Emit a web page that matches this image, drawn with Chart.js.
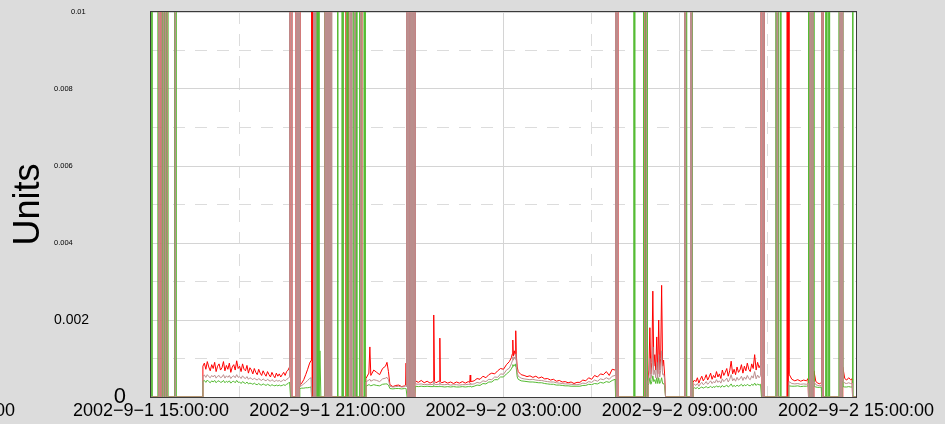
<!DOCTYPE html>
<html>
<head>
<meta charset="utf-8">
<script src="https://cdn.jsdelivr.net/npm/chart.js@4.4.1/dist/chart.umd.min.js"></script>
<style>
  html, body { margin: 0; padding: 0; background: #dcdcdc; }
  #wrap { width: 945px; height: 424px; }
</style>
</head>
<body>
<div id="wrap"><canvas id="c" width="945" height="424"></canvas></div>
<script>
// ---- DATA (time in minutes after 2002-9-1 15:00:00; value 1 = far off the top of the scale) ----
const xTickLabels = ['2002\u22129\u22121 15:00:00', '2002\u22129\u22121 21:00:00', '2002\u22129\u22122 03:00:00', '2002\u22129\u22122 09:00:00', '2002\u22129\u22122 15:00:00'];
const yTickLabels = ['0', '0.002', '0.004', '0.006', '0.008', '0.01'];
const seriesNames = ['pink', 'green', 'red'];

const minutes = [
  0,2,14,16,17,18,21,22,23,24,25,26,27,28,29,30,31,32,33,34,35,48,49,50,51,105,
  106,109,112,115,118,121,124,127,130,133,136,139,142,145,148,151,154,157,160,163,166,169,172,175,178,181,184,187,190,193,
  196,199,202,205,208,211,214,217,220,223,226,229,232,235,238,241,244,247,250,253,256,259,262,265,268,271,274,277,280,283,
  285,286,287,288,296,297,298,299,300,301,302,303,
  304,308,312,316,320,324,327,
  328,329,330,331,332,333,334,335,336,337,338,339,340,341,342,343,345,347,355,356,357,358,359,360,361,362,363,364,365,366,367,368,369,380,381,382,389,390,391,392,393,398,399,400,401,402,406,407,408,409,410,413,414,415,416,417,418,419,420,421,425,426,427,428,429,430,431,434,435,436,437,438,
  439,445,447,449,455,461,467,473,479,482,485,488,494,500,506,512,518,520,521,522,
  523,524,525,526,527,528,529,530,531,532,533,534,535,536,537,538,539,
  540,546,552,558,564,570,576,577,578,579,582,588,589,590,591,594,600,606,612,618,624,630,636,642,648,651,652,653,654,
  660,666,672,678,684,690,696,702,708,714,720,726,732,
  736,738,739,740,742,744,745,746,748,
  750,756,762,768,774,780,786,792,798,804,810,816,822,828,834,840,846,852,858,864,870,
  876,882,888,894,900,906,912,918,924,930,936,942,948,
  949,950,951,952,953,954,986,987,988,1006,1007,1008,1009,1010,1011,1012,1013,1014,
  1015,1017,1019,1021,1023,1025,1027,1029,1031,1033,1035,1037,1039,1041,1043,1045,1047,1049,
  1051,1090,1091,1092,1093,1094,1102,1103,1104,1105,1106,
  1107,1110,1113,1116,1119,1122,1125,1128,1131,1134,1137,1140,1143,1146,1149,1152,1155,1158,1161,1164,1167,1170,1173,1176,
  1179,1182,1185,1188,1191,1194,1197,1200,1203,1206,1209,1212,1215,1218,1221,1224,1227,1230,1233,1236,1239,1242,1245,
  1247,1248,1249,1250,1251,1252,1276,1277,1278,1279,1280,1281,1282,1285,1286,1287,1299,1300,1301,1302,
  1303,1309,1315,1321,1327,1333,1339,1342,
  1343,1344,1345,1346,1347,1348,1349,1350,1351,1352,1353,
  1354,1358,1362,1366,1369,
  1370,1371,1372,1373,1377,1378,1379,1380,1381,1384,1385,1386,1405,1406,1407,1408,1409,1410,1411,1412,
  1413,1417,1421,1425,1429,1432,
  1433,1434,1440
];

const red = [
  0,0,0,0,1,0,0,1,1,1,0,1,1,1,0,1,1,1,0,0,0,0,1,0,0,0,
  0.00080,0.00088,0.00072,0.00092,0.00078,0.00068,0.00084,0.00074,0.00090,0.00066,0.00080,0.00086,0.00070,0.00076,0.00092,0.00068,0.00082,0.00072,0.00088,0.00064,0.00078,0.00084,0.00070,0.00094,0.00074,0.00080,0.00066,0.00086,0.00072,0.00068,
  0.00082,0.00062,0.00076,0.00070,0.00060,0.00074,0.00064,0.00058,0.00072,0.00062,0.00056,0.00068,0.00060,0.00054,0.00066,0.00058,0.00052,0.00064,0.00056,0.00050,0.00062,0.00054,0.00060,0.00052,0.00058,0.00064,0.00056,0.00066,0.00070,0.00078,
  1,0,1,0,0,1,0,1,0,1,0,1,
  0.00030,0.00036,0.00045,0.00058,0.00072,0.00088,0.00095,
  1,0,1,0,1,0,1,0,0,0, 0,0,0,0,0,0, 0,0, 0,1,0,0,0,1,0,0,0,1,0,0,0,0,0, 0,0,0, 0,0,0,0,0, 0,1,1,1,0, 0,0,0,0,0, 0,0,0,0,0,0,0,0,0, 0,0,0,1,1,1,0, 0,0,0,0,0,
  0.00048,0.00062,0.00130,0.00056,0.00070,0.00064,0.00058,0.00074,0.00080,0.00090,0.00066,0.00032,0.00027,0.00030,0.00031,0.00027,0.00029,0.00031,0.00088,0.00029,
  1,0,1,0,1,0,1,0,1,0,1,0,1,0,1,0,1,
  0.00042,0.00038,0.00043,0.00037,0.00041,0.00036,0.00040,0.00041,0.00213,0.00041,0.00037,0.00041,0.00041,0.00153,0.00040,0.00037,0.00040,0.00036,0.00039,0.00035,0.00039,0.00036,0.00040,0.00036,0.00040,0.00038,0.00057,0.00040,0.00040,
  0.00042,0.00048,0.00046,0.00054,0.00050,0.00058,0.00062,0.00060,0.00068,0.00074,0.00072,0.00084,0.00092,
  0.00102,0.00112,0.00148,0.00106,0.00120,0.00108,0.00172,0.00112,0.00078,
  0.00066,0.00058,0.00056,0.00053,0.00055,0.00051,0.00054,0.00049,0.00052,0.00047,0.00048,0.00044,0.00046,0.00041,0.00043,0.00039,0.00040,0.00037,0.00039,0.00035,0.00038,
  0.00038,0.00044,0.00042,0.00050,0.00046,0.00056,0.00052,0.00060,0.00058,0.00066,0.00056,0.00072,0.00070,
  1,0,1,0,1,0, 0,0,0, 0,0,0,1,1,1,0,0,0,
  0.00045,0.00070,0.00180,0.00060,0.00090,0.00275,0.00080,0.00110,0.00070,0.00156,0.00060,0.00200,0.00070,0.00100,0.00290,0.00080,0.00096,0.00060,
  0, 0,1,0,0,0, 0,1,0,0,0,
  0.00038,0.00044,0.00040,0.00050,0.00036,0.00046,0.00054,0.00042,0.00048,0.00058,0.00044,0.00052,0.00062,0.00046,0.00056,0.00050,0.00066,0.00052,0.00060,0.00048,0.00070,0.00056,0.00064,0.00074,
  0.00054,0.00068,0.00093,0.00060,0.00072,0.00058,0.00078,0.00064,0.00070,0.00084,0.00062,0.00080,0.00068,0.00088,0.00072,0.00066,0.00086,0.00074,0.00110,0.00070,0.00090,0.00076,0.00084,
  1,0,1,0,1,0,0,0,0,0,0,0,0,0,0,0,0,1,0,1,
  0.00060,0.00046,0.00042,0.00045,0.00041,0.00044,0.00042,0.00048,
  0,0,1,1,1,0,1,1,1,0,0,
  0.00068,0.00040,0.00036,0.00034,0.00038,
  1,0,1,0,0,0,0,0,0,0,0,0,0,0,0,0,0,0,0,0,
  0.00078,0.00048,0.00044,0.00050,0.00045,0.00047,
  0,0,0
];

const pink = [
  0,0,0,0,1,0,0,1,1,1,0,1,1,1,0,1,1,1,0,0,0,0,1,0,0,0,
  0.00054,0.00057,0.00051,0.00058,0.00053,0.00050,0.00056,0.00052,0.00057,0.00049,0.00054,0.00056,0.00050,0.00052,0.00058,0.00049,0.00055,0.00051,0.00056,0.00048,0.00053,0.00055,0.00050,0.00058,0.00051,0.00053,0.00048,0.00055,0.00050,0.00048,
  0.00053,0.00046,0.00050,0.00048,0.00045,0.00049,0.00046,0.00044,0.00048,0.00045,0.00043,0.00047,0.00044,0.00042,0.00046,0.00043,0.00041,0.00045,0.00042,0.00040,0.00044,0.00041,0.00043,0.00040,0.00042,0.00045,0.00042,0.00046,0.00048,0.00052,
  1,0,1,0,0,1,0,1,0,1,0,1,
  0.00027,0.00030,0.00034,0.00038,0.00043,0.00048,0.00050,
  0,0,0,0,1,0,1,0,1,0, 0,0,0,0,0,0, 0,0, 0,1,0,1,0,1,0,1,0,1,0,1,0,1,0, 0,0,0, 0,0,0,0,0, 0,0,0,0,0, 0,1,0,1,0, 0,0,0,1,0,0,0,0,0, 0,0,0,1,1,1,0, 0,0,0,0,0,
  0.00039,0.00044,0.00046,0.00041,0.00045,0.00043,0.00040,0.00047,0.00049,0.00051,0.00045,0.00028,0.00026,0.00027,0.00028,0.00026,0.00027,0.00028,0.00030,0.00027,
  1,0,1,0,1,0,1,0,1,0,1,0,1,0,1,0,1,
  0.00034,0.00033,0.00034,0.00032,0.00033,0.00032,0.00033,0.00033,0.00042,0.00033,0.00032,0.00033,0.00033,0.00038,0.00033,0.00032,0.00032,0.00033,0.00031,0.00032,0.00032,0.00031,0.00032,0.00032,0.00033,0.00032,0.00036,0.00033,0.00033,
  0.00034,0.00038,0.00036,0.00042,0.00040,0.00046,0.00045,0.00052,0.00051,0.00060,0.00059,0.00070,0.00075,
  0.00086,0.00094,0.00104,0.00096,0.00104,0.00098,0.00112,0.00096,0.00064,
  0.00054,0.00049,0.00047,0.00046,0.00045,0.00046,0.00044,0.00043,0.00043,0.00041,0.00040,0.00039,0.00039,0.00037,0.00036,0.00035,0.00034,0.00034,0.00033,0.00032,0.00032,
  0.00033,0.00036,0.00035,0.00040,0.00038,0.00044,0.00041,0.00047,0.00045,0.00050,0.00046,0.00054,0.00056,
  1,0,1,0,1,0, 0,0,0, 0,0,0,1,1,1,0,0,0,
  0.00040,0.00050,0.00100,0.00048,0.00060,0.00130,0.00058,0.00070,0.00050,0.00090,0.00048,0.00110,0.00052,0.00068,0.00120,0.00058,0.00060,0.00048,
  0, 0,1,0,0,0, 0,1,0,0,0,
  0.00029,0.00033,0.00030,0.00035,0.00028,0.00034,0.00038,0.00032,0.00035,0.00040,0.00033,0.00037,0.00042,0.00035,0.00040,0.00037,0.00045,0.00038,0.00042,0.00036,0.00047,0.00040,0.00044,0.00049,
  0.00039,0.00046,0.00058,0.00042,0.00048,0.00041,0.00051,0.00044,0.00047,0.00054,0.00043,0.00052,0.00046,0.00056,0.00048,0.00045,0.00055,0.00049,0.00066,0.00047,0.00057,0.00050,0.00055,
  1,0,1,0,1,0,0,0,0,1,0,0,0,0,0,0,0,0,0,0,
  0.00040,0.00035,0.00034,0.00035,0.00033,0.00034,0.00033,0.00035,
  0,0,1,1,1,0,1,1,1,0,0,
  0.00040,0.00032,0.00030,0.00029,0.00030,
  1,0,1,0,0,0,0,0,0,0,0,0,0,0,0,1,0,1,0,1,
  0.00042,0.00036,0.00035,0.00037,0.00035,0.00036,
  0,0,0
];

const green = [
  1,0,0,1,1,1,1,1,0,1,1,1,0,1,1,1,0,1,1,1,0,0,0,1,0,0,
  0.00041,0.00043,0.00038,0.00044,0.00040,0.00037,0.00042,0.00039,0.00043,0.00037,0.00041,0.00042,0.00038,0.00039,0.00043,0.00037,0.00041,0.00038,0.00042,0.00036,0.00040,0.00041,0.00037,0.00043,0.00038,0.00039,0.00035,0.00040,0.00037,0.00035,
  0.00039,0.00034,0.00036,0.00035,0.00033,0.00036,0.00033,0.00032,0.00035,0.00032,0.00031,0.00034,0.00032,0.00030,0.00033,0.00031,0.00029,0.00032,0.00030,0.00029,0.00031,0.00029,0.00031,0.00029,0.00030,0.00032,0.00030,0.00033,0.00035,0.00039,
  0,0,0,0,0,0,0,0,0,0,0,0,
  0.00022,0.00023,0.00023,0.00024,0.00024,0.00025,0.00026,
  0,0,0,0,0,0,0,0,0,0, 1,0,1,0,1,0, 0.0012,0, 0,1,0,1,0,0,0,0,0,0,0,0,0,0,0, 0,1,0, 0,1,0,1,0, 0,0,0,1,0, 0,0,0,1,0, 0,1,0,1,0,1,0,1,0, 0,1,1,1,0,0,0, 0,1,0,1,0,
  0.00028,0.00032,0.00031,0.00029,0.00032,0.00030,0.00029,0.00033,0.00034,0.00034,0.00031,0.00022,0.00021,0.00022,0.00022,0.00021,0.00022,0.00022,0.00022,0.00022,
  0,0,0,0,0,0,0,0,0,0,0,1,0,0,0,0,0,
  0.00028,0.00027,0.00028,0.00027,0.00028,0.00027,0.00027,0.00027,0.00030,0.00027,0.00027,0.00027,0.00027,0.00029,0.00027,0.00027,0.00026,0.00027,0.00026,0.00027,0.00026,0.00026,0.00027,0.00026,0.00027,0.00027,0.00028,0.00027,0.00026,
  0.00028,0.00031,0.00030,0.00035,0.00034,0.00039,0.00039,0.00045,0.00045,0.00052,0.00052,0.00060,0.00066,
  0.00073,0.00078,0.00084,0.00080,0.00084,0.00080,0.00086,0.00076,0.00052,
  0.00046,0.00042,0.00041,0.00040,0.00039,0.00039,0.00038,0.00037,0.00037,0.00035,0.00034,0.00033,0.00033,0.00031,0.00031,0.00030,0.00029,0.00029,0.00028,0.00028,0.00028,
  0.00028,0.00030,0.00030,0.00033,0.00032,0.00035,0.00034,0.00038,0.00036,0.00040,0.00038,0.00043,0.00046,
  0,0,0,0,0,0, 0,1,0, 0,1,1,1,0,1,1,1,0,
  0.00030,0.00035,0.00050,0.00033,0.00040,0.00055,0.00040,0.00045,0.00035,0.00050,0.00035,0.00050,0.00035,0.00040,0.00050,0.00035,0.00035,0.00030,
  0, 0,0,0,1,0, 0,0,0,1,0,
  0.00022,0.00024,0.00022,0.00025,0.00021,0.00024,0.00026,0.00023,0.00025,0.00027,0.00024,0.00025,0.00028,0.00024,0.00027,0.00025,0.00029,0.00026,0.00028,0.00025,0.00030,0.00026,0.00028,0.00031,
  0.00026,0.00029,0.00034,0.00027,0.00030,0.00027,0.00031,0.00028,0.00030,0.00033,0.00028,0.00032,0.00029,0.00033,0.00030,0.00029,0.00033,0.00030,0.00036,0.00030,0.00034,0.00031,0.00033,
  0,0,0,0,0,0,0,1,0,1,0,1,0,0,1,0,0,0,0,0,
  0.00029,0.00028,0.00028,0.00029,0.00027,0.00028,0.00028,0.00029,
  1,1,1,0,1,1,1,0,1,1,1,
  0.00028,0.00026,0.00025,0.00025,0.00026,
  0,0,0,0,0,1,0,1,0,0,1,0,0,1,0,1,0,1,0,1,
  0.00027,0.00026,0.00026,0.00027,0.00026,0.00026,
  1,0,0
];

// ---- CHART ----
[red, pink, green].forEach((a, i) => {
  if (a.length !== minutes.length) console.error('length mismatch', i, a.length, minutes.length);
});

const FONT = '"Liberation Sans", Arial, Helvetica, sans-serif';
Chart.defaults.font.family = FONT;
Chart.defaults.color = '#000';

const toPoints = (vals) => minutes.map((m, i) => ({ x: m, y: vals[i] }));
const yIndex = (v) => Math.round(v * 1000);
const yLabelSize = (lbl) => lbl === '0' ? 22 : (lbl === '0.002' ? 14 : 7.5);

function yAxis(showIdx, width, padding, mirror, weight, extra) {
  return Object.assign({
    type: 'linear', position: 'left', min: 0, max: 0.01, weight: weight,
    afterFit: (s) => { s.width = width; s.paddingTop = 0; s.paddingBottom = 0; },
    grid: { display: false, drawTicks: false },
    border: { display: false },
    ticks: {
      stepSize: 0.001, autoSkip: false, padding: padding, mirror: mirror, color: '#000',
      callback: (v) => {
        const k = yIndex(v);
        return (k % 2 === 0 && showIdx.includes(k / 2)) ? yTickLabels[k / 2] : '';
      },
      font: (ctx) => {
        const k = ctx.tick ? yIndex(ctx.tick.value) : 0;
        const lbl = (k % 2 === 0) ? yTickLabels[k / 2] : '';
        return { size: lbl ? yLabelSize(lbl) : 7.5, family: FONT };
      }
    }
  }, extra || {});
}

const frame = {
  id: 'frame',
  beforeDraw(chart) {
    const { ctx, chartArea: a } = chart;
    ctx.save();
    ctx.fillStyle = '#dcdcdc';
    ctx.fillRect(0, 0, chart.width, chart.height);
    ctx.fillStyle = '#ffffff';
    ctx.fillRect(a.left, a.top, a.right - a.left, a.bottom - a.top);
    ctx.restore();
  },
  afterDraw(chart) {
    const { ctx, chartArea: a } = chart;
    ctx.save();
    ctx.strokeStyle = '#3a3a3a';
    ctx.lineWidth = 1;
    ctx.strokeRect(Math.round(a.left) - 0.5, Math.round(a.top) - 0.5, Math.round(a.right - a.left) + 1, Math.round(a.bottom - a.top) + 1);
    ctx.fillStyle = '#000';
    ctx.font = '18px ' + FONT;
    ctx.textAlign = 'right';
    ctx.textBaseline = 'middle';
    ctx.fillText('00', 15, 411);
    ctx.restore();
  }
};

const colors = { red: '#ff0000', pink: '#bc8f8f', green: '#55bb33' };
const values = { red: red, pink: pink, green: green };

new Chart(document.getElementById('c'), {
  type: 'line',
  data: {
    datasets: seriesNames.map((n) => ({
      label: n,
      data: toPoints(values[n]),
      borderColor: colors[n],
      borderWidth: 1,
      pointRadius: 0,
      tension: 0,
      fill: false
    }))
  },
  options: {
    responsive: false,
    animation: false,
    events: [],
    parsing: false,
    normalized: true,
    layout: { padding: { top: 12, right: 89, bottom: 0, left: 0 } },
    plugins: { legend: { display: false }, tooltip: { enabled: false } },
    scales: {
      x: {
        type: 'linear', min: 0, max: 1440,
        afterFit: (s) => { s.height = 27; },
        grid: {
          drawTicks: false, lineWidth: 1,
          color: (ctx) => (ctx.tick && ctx.tick.value % 360 === 0) ? '#d4d4d4' : '#dcdcdc'
        },
        border: { display: false, dash: (ctx) => (ctx.tick && ctx.tick.value % 360 !== 0) ? [12, 10] : [] },
        ticks: {
          stepSize: 180, autoSkip: false, maxRotation: 0, minRotation: 0, padding: 3, color: '#000',
          font: { size: 18, family: FONT },
          callback: (v) => (v % 360 === 0) ? xTickLabels[v / 360] : ''
        }
      },
      y: yAxis([0], 51, 25, false, 0, {
        grid: {
          display: true, drawTicks: false, lineWidth: 1,
          color: (ctx) => (ctx.tick && yIndex(ctx.tick.value) % 2 === 0) ? '#d4d4d4' : '#dcdcdc'
        },
        border: { display: false, dash: (ctx) => (ctx.tick && yIndex(ctx.tick.value) % 2 !== 0) ? [12, 10] : [] }
      }),
      y2: yAxis([5], 24, -29, true, 1),
      y3: yAxis([1, 2, 3, 4], 76, -22, true, 2, {
        title: { display: true, text: 'Units', color: '#000', font: { size: 36, family: FONT }, padding: { top: 7, bottom: 0 } }
      })
    }
  },
  plugins: [frame]
});
</script>
</body>
</html>
